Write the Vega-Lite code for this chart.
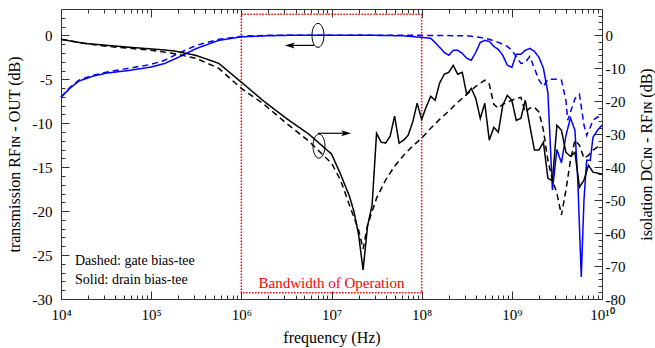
{
  "$schema": "https://vega.github.io/schema/vega-lite/v6.json",
  "width": 541,
  "height": 290,
  "autosize": {"type": "none"},
  "padding": {"left": 61, "top": 9, "right": 53, "bottom": 49},
  "background": "white",
  "config": {
    "view": {"stroke": null},
    "font": "Liberation Serif",
    "axis": {
      "domainColor": "#333",
      "tickColor": "#333",
      "labelColor": "black",
      "titleColor": "black",
      "labelFont": "Liberation Serif",
      "titleFont": "Liberation Serif",
      "labelFontSize": 15,
      "titleFontSize": 16,
      "titleFontWeight": "normal",
      "grid": false,
      "tickWidth": 1,
      "domainWidth": 1,
      "labelOverlap": false,
      "labelFlush": false
    },
    "axisX": {"titleFont": "Liberation Serif", "titleFontWeight": "normal"},
    "axisBottom": {"titleFont": "Liberation Serif", "titleFontWeight": "normal"}
  },
  "datasets": {
    "trans": [
      {"f": 1e4, "v": -7.05, "s": "drain"}, {"f": 1.26e4, "v": -6.0, "s": "drain"}, {"f": 1.58e4, "v": -5.2, "s": "drain"}, {"f": 2.24e4, "v": -4.66, "s": "drain"}, {"f": 3.16e4, "v": -4.3, "s": "drain"}, {"f": 5.62e4, "v": -4.0, "s": "drain"}, {"f": 1e5, "v": -3.6, "s": "drain"}, {"f": 1.41e5, "v": -3.2, "s": "drain"}, {"f": 2e5, "v": -2.5, "s": "drain"}, {"f": 3.16e5, "v": -1.5, "s": "drain"}, {"f": 5.62e5, "v": -0.57, "s": "drain"}, {"f": 1e6, "v": -0.17, "s": "drain"}, {"f": 1.78e6, "v": -0.06, "s": "drain"}, {"f": 3.16e6, "v": 0, "s": "drain"}, {"f": 1e7, "v": 0, "s": "drain"}, {"f": 3.16e7, "v": 0, "s": "drain"}, {"f": 6.31e7, "v": -0.05, "s": "drain"}, {"f": 1e8, "v": -0.23, "s": "drain"}, {"f": 1.12e8, "v": -0.28, "s": "drain"}, {"f": 1.26e8, "v": -0.34, "s": "drain"}, {"f": 1.41e8, "v": -0.8, "s": "drain"}, {"f": 1.58e8, "v": -1.36, "s": "drain"}, {"f": 1.78e8, "v": -1.93, "s": "drain"}, {"f": 2e8, "v": -2.27, "s": "drain"}, {"f": 2.24e8, "v": -1.7, "s": "drain"}, {"f": 2.51e8, "v": -1.7, "s": "drain"}, {"f": 2.82e8, "v": -2.05, "s": "drain"}, {"f": 3.16e8, "v": -2.6, "s": "drain"}, {"f": 3.55e8, "v": -2.84, "s": "drain"}, {"f": 3.98e8, "v": -1.93, "s": "drain"}, {"f": 4.47e8, "v": -0.8, "s": "drain"}, {"f": 5.01e8, "v": -0.57, "s": "drain"}, {"f": 5.62e8, "v": -0.68, "s": "drain"}, {"f": 6.31e8, "v": -1.25, "s": "drain"}, {"f": 7.08e8, "v": -1.6, "s": "drain"}, {"f": 7.94e8, "v": -2.27, "s": "drain"}, {"f": 8.91e8, "v": -3.4, "s": "drain"}, {"f": 1e9, "v": -3.64, "s": "drain"}, {"f": 1.12e9, "v": -2.16, "s": "drain"}, {"f": 1.26e9, "v": -2.16, "s": "drain"}, {"f": 1.41e9, "v": -1.7, "s": "drain"}, {"f": 1.58e9, "v": -1.48, "s": "drain"}, {"f": 1.78e9, "v": -1.82, "s": "drain"}, {"f": 2e9, "v": -2.5, "s": "drain"}, {"f": 2.24e9, "v": -3.75, "s": "drain"}, {"f": 2.51e9, "v": -6.5, "s": "drain"}, {"f": 2.82e9, "v": -17.6, "s": "drain"}, {"f": 3.16e9, "v": -13.0, "s": "drain"}, {"f": 3.55e9, "v": -14.5, "s": "drain"}, {"f": 3.98e9, "v": -11.4, "s": "drain"}, {"f": 4.47e9, "v": -9.4, "s": "drain"}, {"f": 5.01e9, "v": -10.8, "s": "drain"}, {"f": 5.37e9, "v": -16.1, "s": "drain"}, {"f": 5.89e9, "v": -27.5, "s": "drain"}, {"f": 6.31e9, "v": -18.75, "s": "drain"}, {"f": 6.76e9, "v": -14.2, "s": "drain"}, {"f": 7.41e9, "v": -14.2, "s": "drain"}, {"f": 7.94e9, "v": -11.6, "s": "drain"}, {"f": 8.91e9, "v": -10.8, "s": "drain"}, {"f": 1e10, "v": -10.2, "s": "drain"},
      {"f": 1e4, "v": -7.05, "s": "gate"}, {"f": 1.26e4, "v": -5.9, "s": "gate"}, {"f": 1.58e4, "v": -5.1, "s": "gate"}, {"f": 2.24e4, "v": -4.55, "s": "gate"}, {"f": 3.16e4, "v": -4.2, "s": "gate"}, {"f": 5.62e4, "v": -3.75, "s": "gate"}, {"f": 1e5, "v": -3.3, "s": "gate"}, {"f": 1.41e5, "v": -2.84, "s": "gate"}, {"f": 2e5, "v": -2.05, "s": "gate"}, {"f": 3.16e5, "v": -1.14, "s": "gate"}, {"f": 5.62e5, "v": -0.45, "s": "gate"}, {"f": 1e6, "v": -0.11, "s": "gate"}, {"f": 1.78e6, "v": 0, "s": "gate"}, {"f": 1e7, "v": 0, "s": "gate"}, {"f": 1e8, "v": 0, "s": "gate"}, {"f": 3.16e8, "v": -0.05, "s": "gate"}, {"f": 4.47e8, "v": -0.23, "s": "gate"}, {"f": 5.62e8, "v": -0.45, "s": "gate"}, {"f": 7.08e8, "v": -0.8, "s": "gate"}, {"f": 8.91e8, "v": -1.25, "s": "gate"}, {"f": 1e9, "v": -1.7, "s": "gate"}, {"f": 1.12e9, "v": -2.4, "s": "gate"}, {"f": 1.26e9, "v": -3.2, "s": "gate"}, {"f": 1.41e9, "v": -3.07, "s": "gate"}, {"f": 1.58e9, "v": -2.4, "s": "gate"}, {"f": 1.78e9, "v": -3.75, "s": "gate"}, {"f": 2e9, "v": -5.1, "s": "gate"}, {"f": 2.24e9, "v": -5.8, "s": "gate"}, {"f": 2.51e9, "v": -5.0, "s": "gate"}, {"f": 2.82e9, "v": -5.0, "s": "gate"}, {"f": 3.16e9, "v": -5.0, "s": "gate"}, {"f": 3.55e9, "v": -5.1, "s": "gate"}, {"f": 3.98e9, "v": -7.4, "s": "gate"}, {"f": 4.17e9, "v": -9.66, "s": "gate"}, {"f": 5.01e9, "v": -7.2, "s": "gate"}, {"f": 5.62e9, "v": -6.7, "s": "gate"}, {"f": 6.31e9, "v": -10.2, "s": "gate"}, {"f": 6.76e9, "v": -11.4, "s": "gate"}, {"f": 7.41e9, "v": -10.45, "s": "gate"}, {"f": 7.94e9, "v": -9.66, "s": "gate"}, {"f": 8.91e9, "v": -9.3, "s": "gate"}, {"f": 1e10, "v": -9.3, "s": "gate"}
    ],
    "iso": [
      {"f": 1e4, "v": -1.2, "s": "drain"}, {"f": 1.78e4, "v": -2.4, "s": "drain"}, {"f": 3.16e4, "v": -3.0, "s": "drain"}, {"f": 5.62e4, "v": -3.6, "s": "drain"}, {"f": 1e5, "v": -4.1, "s": "drain"}, {"f": 1.78e5, "v": -4.7, "s": "drain"}, {"f": 3.16e5, "v": -6.1, "s": "drain"}, {"f": 5.62e5, "v": -8.5, "s": "drain"}, {"f": 1e6, "v": -14.2, "s": "drain"}, {"f": 1.78e6, "v": -20.0, "s": "drain"}, {"f": 3.16e6, "v": -25.2, "s": "drain"}, {"f": 5.62e6, "v": -30.0, "s": "drain"}, {"f": 1e7, "v": -36.0, "s": "drain"}, {"f": 1.26e7, "v": -42.1, "s": "drain"}, {"f": 1.58e7, "v": -48.8, "s": "drain"}, {"f": 1.78e7, "v": -53.6, "s": "drain"}, {"f": 2e7, "v": -60.6, "s": "drain"}, {"f": 2.24e7, "v": -71.2, "s": "drain"}, {"f": 2.51e7, "v": -57.9, "s": "drain"}, {"f": 2.82e7, "v": -51.5, "s": "drain"}, {"f": 3.16e7, "v": -29.7, "s": "drain"}, {"f": 3.55e7, "v": -32.4, "s": "drain"}, {"f": 3.98e7, "v": -32.7, "s": "drain"}, {"f": 4.47e7, "v": -30.6, "s": "drain"}, {"f": 5.01e7, "v": -24.5, "s": "drain"}, {"f": 5.62e7, "v": -32.7, "s": "drain"}, {"f": 6.31e7, "v": -31.8, "s": "drain"}, {"f": 7.08e7, "v": -30.3, "s": "drain"}, {"f": 7.94e7, "v": -26.4, "s": "drain"}, {"f": 8.91e7, "v": -20.6, "s": "drain"}, {"f": 1e8, "v": -25.5, "s": "drain"}, {"f": 1.12e8, "v": -21.8, "s": "drain"}, {"f": 1.26e8, "v": -18.5, "s": "drain"}, {"f": 1.41e8, "v": -19.7, "s": "drain"}, {"f": 1.58e8, "v": -14.5, "s": "drain"}, {"f": 1.78e8, "v": -11.8, "s": "drain"}, {"f": 2e8, "v": -11.2, "s": "drain"}, {"f": 2.24e8, "v": -9.1, "s": "drain"}, {"f": 2.51e8, "v": -11.8, "s": "drain"}, {"f": 2.82e8, "v": -11.2, "s": "drain"}, {"f": 3.16e8, "v": -17.9, "s": "drain"}, {"f": 3.55e8, "v": -16.1, "s": "drain"}, {"f": 3.98e8, "v": -19.1, "s": "drain"}, {"f": 4.47e8, "v": -25.2, "s": "drain"}, {"f": 5.01e8, "v": -20.6, "s": "drain"}, {"f": 5.62e8, "v": -31.8, "s": "drain"}, {"f": 6.31e8, "v": -27.9, "s": "drain"}, {"f": 7.08e8, "v": -29.4, "s": "drain"}, {"f": 7.94e8, "v": -21.2, "s": "drain"}, {"f": 8.91e8, "v": -18.2, "s": "drain"}, {"f": 1e9, "v": -19.7, "s": "drain"}, {"f": 1.12e9, "v": -25.8, "s": "drain"}, {"f": 1.26e9, "v": -25.2, "s": "drain"}, {"f": 1.41e9, "v": -19.7, "s": "drain"}, {"f": 1.58e9, "v": -27.3, "s": "drain"}, {"f": 1.78e9, "v": -34.8, "s": "drain"}, {"f": 2e9, "v": -34.8, "s": "drain"}, {"f": 2.24e9, "v": -32.4, "s": "drain"}, {"f": 2.51e9, "v": -43.3, "s": "drain"}, {"f": 2.82e9, "v": -44.2, "s": "drain"}, {"f": 3.16e9, "v": -27.3, "s": "drain"}, {"f": 3.55e9, "v": -28.8, "s": "drain"}, {"f": 3.98e9, "v": -35.5, "s": "drain"}, {"f": 4.47e9, "v": -36.7, "s": "drain"}, {"f": 5.01e9, "v": -35.5, "s": "drain"}, {"f": 5.62e9, "v": -46.1, "s": "drain"}, {"f": 6.31e9, "v": -43.9, "s": "drain"}, {"f": 7.08e9, "v": -39.4, "s": "drain"}, {"f": 7.94e9, "v": -41.5, "s": "drain"}, {"f": 8.91e9, "v": -41.8, "s": "drain"}, {"f": 1e10, "v": -42.1, "s": "drain"},
      {"f": 1e4, "v": -1.2, "s": "gate"}, {"f": 1.78e4, "v": -2.4, "s": "gate"}, {"f": 3.16e4, "v": -3.3, "s": "gate"}, {"f": 5.62e4, "v": -3.9, "s": "gate"}, {"f": 1e5, "v": -4.5, "s": "gate"}, {"f": 1.78e5, "v": -5.5, "s": "gate"}, {"f": 3.16e5, "v": -7.0, "s": "gate"}, {"f": 5.62e5, "v": -10.0, "s": "gate"}, {"f": 1e6, "v": -16.1, "s": "gate"}, {"f": 1.78e6, "v": -20.9, "s": "gate"}, {"f": 3.16e6, "v": -26.7, "s": "gate"}, {"f": 5.62e6, "v": -32.1, "s": "gate"}, {"f": 1e7, "v": -38.8, "s": "gate"}, {"f": 1.26e7, "v": -43.9, "s": "gate"}, {"f": 1.58e7, "v": -51.5, "s": "gate"}, {"f": 2e7, "v": -59.1, "s": "gate"}, {"f": 2.24e7, "v": -64.8, "s": "gate"}, {"f": 2.51e7, "v": -57.6, "s": "gate"}, {"f": 3.16e7, "v": -49.4, "s": "gate"}, {"f": 3.98e7, "v": -43.9, "s": "gate"}, {"f": 5.01e7, "v": -39.7, "s": "gate"}, {"f": 6.31e7, "v": -36.4, "s": "gate"}, {"f": 7.94e7, "v": -33.6, "s": "gate"}, {"f": 1e8, "v": -31.2, "s": "gate"}, {"f": 1.26e8, "v": -28.2, "s": "gate"}, {"f": 1.58e8, "v": -25.5, "s": "gate"}, {"f": 2e8, "v": -23.0, "s": "gate"}, {"f": 2.51e8, "v": -20.3, "s": "gate"}, {"f": 3.16e8, "v": -17.9, "s": "gate"}, {"f": 3.98e8, "v": -15.5, "s": "gate"}, {"f": 5.01e8, "v": -13.6, "s": "gate"}, {"f": 5.62e8, "v": -14.8, "s": "gate"}, {"f": 6.31e8, "v": -20.9, "s": "gate"}, {"f": 7.08e8, "v": -22.1, "s": "gate"}, {"f": 7.94e8, "v": -20.9, "s": "gate"}, {"f": 8.91e8, "v": -20.3, "s": "gate"}, {"f": 1e9, "v": -19.7, "s": "gate"}, {"f": 1.12e9, "v": -19.1, "s": "gate"}, {"f": 1.26e9, "v": -18.8, "s": "gate"}, {"f": 1.41e9, "v": -23.3, "s": "gate"}, {"f": 1.58e9, "v": -22.1, "s": "gate"}, {"f": 1.78e9, "v": -21.8, "s": "gate"}, {"f": 2e9, "v": -23.3, "s": "gate"}, {"f": 2.24e9, "v": -28.8, "s": "gate"}, {"f": 2.51e9, "v": -37.9, "s": "gate"}, {"f": 2.82e9, "v": -43.9, "s": "gate"}, {"f": 3.16e9, "v": -47.9, "s": "gate"}, {"f": 3.55e9, "v": -54.5, "s": "gate"}, {"f": 3.98e9, "v": -47.0, "s": "gate"}, {"f": 4.47e9, "v": -37.9, "s": "gate"}, {"f": 5.01e9, "v": -31.8, "s": "gate"}, {"f": 5.62e9, "v": -33.3, "s": "gate"}, {"f": 6.31e9, "v": -37.3, "s": "gate"}, {"f": 7.08e9, "v": -36.4, "s": "gate"}, {"f": 7.94e9, "v": -34.8, "s": "gate"}, {"f": 8.91e9, "v": -33.9, "s": "gate"}, {"f": 1e10, "v": -33.9, "s": "gate"}
    ],
    "band": [{"f": 1e6, "f2": 1e8, "v": -29.3, "v2": 2.4}],
    "bandLabel": [{"f": 1e7, "v": -28.2, "t": "Bandwidth of Operation"}],
    "note": [
      {"f": 1.43e4, "v": -25.7, "t": "Dashed: gate bias-tee"},
      {"f": 1.43e4, "v": -27.8, "t": "Solid: drain bias-tee"}
    ],
    "ellipses": [{"f": 7.08e6, "v": 0}, {"f": 7.26e6, "v": -12.6}],
    "arrowLines": [
      {"f": 3.3e6, "f2": 6.4e6, "v": -1.14},
      {"f": 7.08e6, "f2": 1.41e7, "v": -11.14}
    ],
    "arrowHeads": [
      {"f": 3.46e6, "v": -1.14, "dir": "left"},
      {"f": 1.45e7, "v": -11.14, "dir": "right"}
    ]
  },
  "layer": [
    {
      "encoding": {
        "x": {
          "field": "f", "type": "quantitative",
          "scale": {"type": "log", "domain": [1e4, 1e10], "nice": false},
          "axis": {
            "orient": "bottom",
            "values": [1e4, 2e4, 3e4, 4e4, 5e4, 6e4, 7e4, 8e4, 9e4, 1e5, 2e5, 3e5, 4e5, 5e5, 6e5, 7e5, 8e5, 9e5, 1e6, 2e6, 3e6, 4e6, 5e6, 6e6, 7e6, 8e6, 9e6, 1e7, 2e7, 3e7, 4e7, 5e7, 6e7, 7e7, 8e7, 9e7, 1e8, 2e8, 3e8, 4e8, 5e8, 6e8, 7e8, 8e8, 9e8, 1e9, 2e9, 3e9, 4e9, 5e9, 6e9, 7e9, 8e9, 9e9, 1e10],
            "labelExpr": "abs(log(datum.value)/LN10 - round(log(datum.value)/LN10)) < 1e-6 ? '10' + ['⁴','⁵','⁶','⁷','⁸','⁹','¹⁰'][round(log(datum.value)/LN10)-4] : ''",
            "tickSize": {"condition": {"test": "abs(log(datum.value)/LN10 - round(log(datum.value)/LN10)) < 1e-6", "value": -8}, "value": -4},
            "labelPadding": 16,
            "labelFont": "Liberation Serif",
            "title": "frequency (Hz)",
            "titleFont": "Liberation Serif",
            "titleFontWeight": "normal",
            "titleFontSize": 16,
            "titlePadding": 3
          }
        },
        "y": {
          "field": "v", "type": "quantitative",
          "scale": {"domain": [-30, 3], "nice": false, "zero": false},
          "axis": {
            "orient": "left",
            "values": [-30, -29, -28, -27, -26, -25, -24, -23, -22, -21, -20, -19, -18, -17, -16, -15, -14, -13, -12, -11, -10, -9, -8, -7, -6, -5, -4, -3, -2, -1, 0, 1, 2],
            "labelExpr": "datum.value % 5 == 0 ? '' + datum.value : ''",
            "tickSize": {"condition": {"test": "datum.value % 5 == 0", "value": -8}, "value": -4},
            "labelPadding": 17,
            "labelFont": "Liberation Serif",
            "title": "transmission RFɪɴ - OUT (dB)",
            "titleFont": "Liberation Serif",
            "titleFontWeight": "normal",
            "titleFontSize": 16,
            "titlePadding": 10
          }
        }
      },
      "layer": [
        {
          "data": {"name": "band"},
          "mark": {"type": "rect", "filled": false, "stroke": "#ff0000", "strokeWidth": 1.5, "strokeDash": [1.5, 1.5]},
          "encoding": {"x2": {"field": "f2"}, "y2": {"field": "v2"}}
        },
        {
          "data": {"name": "trans"},
          "mark": {"type": "line", "color": "#0000ff", "strokeWidth": 1.5},
          "encoding": {
            "strokeDash": {"field": "s", "type": "nominal", "scale": {"domain": ["drain", "gate"], "range": [[1, 0], [6, 4]]}, "legend": null}
          }
        },
        {
          "data": {"name": "bandLabel"},
          "mark": {"type": "text", "color": "#ff0000", "fontSize": 15, "font": "Liberation Serif", "align": "center", "baseline": "middle"},
          "encoding": {"text": {"field": "t"}}
        },
        {
          "data": {"name": "note"},
          "mark": {"type": "text", "color": "black", "fontSize": 14, "font": "Liberation Serif", "align": "left", "baseline": "middle"},
          "encoding": {"text": {"field": "t"}}
        },
        {
          "data": {"name": "ellipses"},
          "mark": {"type": "point", "shape": "M0,-1 A0.5,1 0 1,1 0,1 A0.5,1 0 1,1 0,-1 Z", "size": 576, "filled": false, "stroke": "black", "strokeWidth": 1, "opacity": 1}
        },
        {
          "data": {"name": "arrowLines"},
          "mark": {"type": "rule", "color": "black", "strokeWidth": 1.2},
          "encoding": {"x2": {"field": "f2"}}
        },
        {
          "data": {"name": "arrowHeads"},
          "mark": {"type": "point", "filled": true, "color": "black", "size": 100, "opacity": 1},
          "encoding": {
            "shape": {"field": "dir", "type": "nominal", "scale": {"domain": ["left", "right"], "range": ["M-1,0L1,-0.6L0.5,0L1,0.6Z", "M1,0L-1,-0.6L-0.5,0L-1,0.6Z"]}, "legend": null}
          }
        }
      ]
    },
    {
      "data": {"name": "iso"},
      "mark": {"type": "line", "color": "black", "strokeWidth": 1.5},
      "encoding": {
        "x": {
          "field": "f", "type": "quantitative",
          "scale": {"type": "log", "domain": [1e4, 1e10], "nice": false},
          "axis": {
            "orient": "top",
            "values": [1e4, 2e4, 3e4, 4e4, 5e4, 6e4, 7e4, 8e4, 9e4, 1e5, 2e5, 3e5, 4e5, 5e5, 6e5, 7e5, 8e5, 9e5, 1e6, 2e6, 3e6, 4e6, 5e6, 6e6, 7e6, 8e6, 9e6, 1e7, 2e7, 3e7, 4e7, 5e7, 6e7, 7e7, 8e7, 9e7, 1e8, 2e8, 3e8, 4e8, 5e8, 6e8, 7e8, 8e8, 9e8, 1e9, 2e9, 3e9, 4e9, 5e9, 6e9, 7e9, 8e9, 9e9, 1e10],
            "labels": false,
            "tickSize": {"condition": {"test": "abs(log(datum.value)/LN10 - round(log(datum.value)/LN10)) < 1e-6", "value": -8}, "value": -4},
            "title": null
          }
        },
        "y": {
          "field": "v", "type": "quantitative",
          "scale": {"domain": [-80, 8], "nice": false, "zero": false},
          "axis": {
            "orient": "right",
            "values": [-80, -78, -76, -74, -72, -70, -68, -66, -64, -62, -60, -58, -56, -54, -52, -50, -48, -46, -44, -42, -40, -38, -36, -34, -32, -30, -28, -26, -24, -22, -20, -18, -16, -14, -12, -10, -8, -6, -4, -2, 0, 2, 4, 6],
            "labelExpr": "datum.value % 10 == 0 ? '' + datum.value : ''",
            "tickSize": {"condition": {"test": "datum.value % 10 == 0", "value": -8}, "value": -4},
            "labelPadding": 11,
            "labelFont": "Liberation Serif",
            "title": "isolation DCɪɴ - RFɪɴ (dB)",
            "titleFont": "Liberation Serif",
            "titleFontWeight": "normal",
            "titleFontSize": 16,
            "titleAngle": 270,
            "titlePadding": 30
          }
        },
        "strokeDash": {"field": "s", "type": "nominal", "scale": {"domain": ["drain", "gate"], "range": [[1, 0], [6, 4]]}, "legend": null}
      }
    }
  ],
  "resolve": {"scale": {"x": "independent", "y": "independent", "strokeDash": "independent", "shape": "independent"}}
}
